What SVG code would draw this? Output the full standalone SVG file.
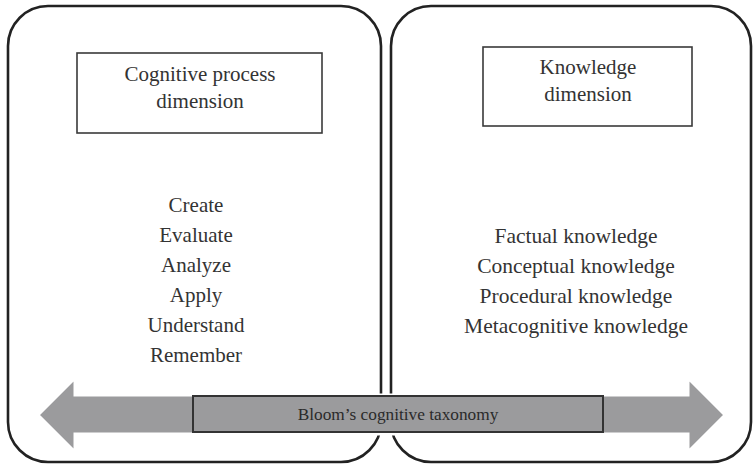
<svg xmlns="http://www.w3.org/2000/svg" width="755" height="465" viewBox="0 0 755 465">
<style>
.panel{fill:none;stroke:#222;stroke-width:2.6}
.box{fill:#fff;stroke:#3a3a3a;stroke-width:1.6}
.t{font-family:"Liberation Serif","Times New Roman",serif;font-size:21px;fill:#333;text-anchor:middle}
.k{font-size:21.5px}
.lbl{font-family:"Liberation Serif","Times New Roman",serif;font-size:17.3px;fill:#2a2a2a;text-anchor:middle}
</style>
<rect width="755" height="465" fill="#fff"/>
<g id="cognitive-panel">
<rect class="panel" x="8" y="6" width="373" height="456" rx="40" ry="40"/>
<rect class="box" x="77" y="53" width="245" height="80"/>
<text class="t" x="200" y="81">Cognitive process</text>
<text class="t" x="200" y="108">dimension</text>
<text class="t" x="196" y="212">Create</text>
<text class="t" x="196" y="242">Evaluate</text>
<text class="t" x="196" y="272">Analyze</text>
<text class="t" x="196" y="302">Apply</text>
<text class="t" x="196" y="332">Understand</text>
<text class="t" x="196" y="362">Remember</text>
</g>
<g id="knowledge-panel">
<rect class="panel" x="391" y="6" width="360" height="456" rx="40" ry="40"/>
<rect class="box" x="483" y="47" width="209" height="79"/>
<text class="t" x="588" y="74">Knowledge</text>
<text class="t" x="588" y="101">dimension</text>
<text class="t k" x="576" y="243">Factual knowledge</text>
<text class="t k" x="576" y="273">Conceptual knowledge</text>
<text class="t k" x="576" y="303">Procedural knowledge</text>
<text class="t k" x="576" y="333">Metacognitive knowledge</text>
</g>
<g id="connectors">
<polygon points="38,415 75,378 75,395 688,395 688,378 725,415 688,452 688,434 75,434 75,452" fill="#9b9b9d" stroke="#fff" stroke-width="3" stroke-linejoin="miter"/>
</g>
<g id="taxonomy-label">
<rect x="193" y="396" width="410" height="36" fill="#9b9b9d" stroke="#333" stroke-width="2"/>
<text class="lbl" x="398" y="420">Bloom’s cognitive taxonomy</text>
</g>
</svg>
